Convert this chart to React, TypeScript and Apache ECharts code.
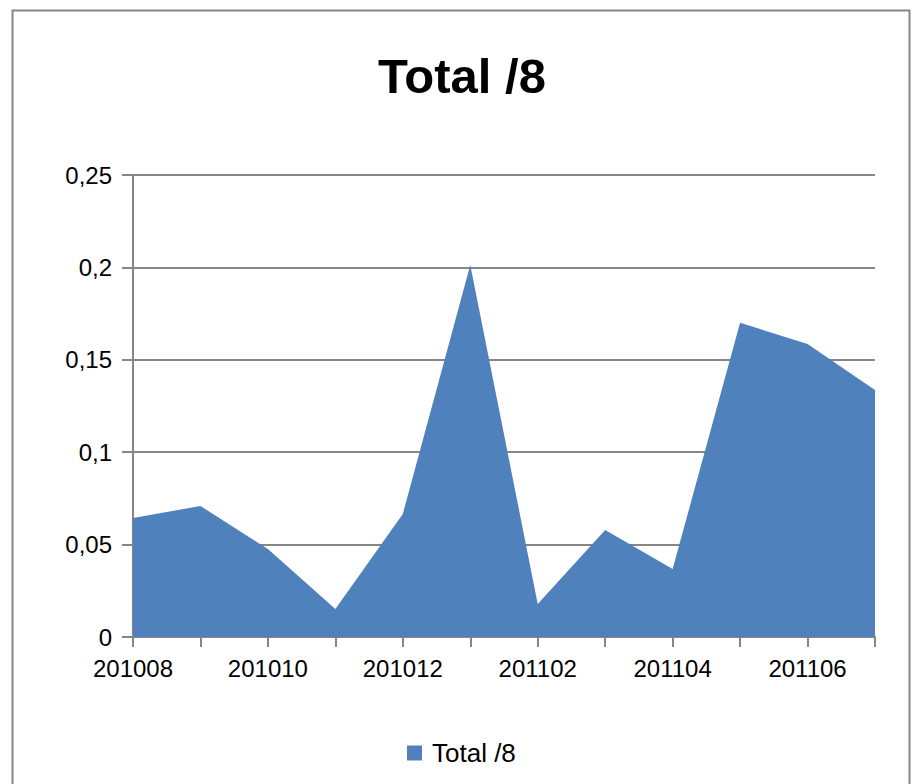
import React, { useEffect, useRef } from "react";
import * as echarts from "echarts";

const categories = [
  "201008", "201009", "201010", "201011", "201012", "201101",
  "201102", "201103", "201104", "201105", "201106", "201107",
];
const totalValues = [
  0.0644, 0.0709, 0.0476, 0.0152, 0.0666, 0.2013,
  0.0179, 0.0579, 0.0368, 0.170, 0.1585, 0.1337,
];
const seriesName = "Total /8";
const titleText = "Total /8";

export default function App() {
  const ref = useRef<HTMLDivElement>(null);
  useEffect(() => {
    if (!ref.current) return;
    const chart = echarts.init(ref.current, undefined, { renderer: "svg" });
    const font = "'Liberation Sans', Arial, sans-serif";
    chart.setOption({
      animation: false,
      backgroundColor: "#ffffff",
      title: {
        text: titleText,
        left: 373,
        top: 46,
        textStyle: { fontFamily: font, fontSize: 49, fontWeight: "bold", color: "#000000" },
      },
      graphic: [
        {
          type: "rect",
          shape: { x: 12.5, y: 10.5, width: 897, height: 800 },
          style: { fill: "none", stroke: "#878787", lineWidth: 2 },
          silent: true,
        },
      ],
      legend: {
        data: [seriesName],
        left: 402,
        top: 735,
        icon: "rect",
        itemWidth: 15,
        itemHeight: 15,
        itemGap: 10,
        textStyle: { fontFamily: font, fontSize: 26, color: "#000000", padding: [0, 0, 0, 5] },
      },
      grid: { left: 133, right: 39, top: 175, bottom: 147, containLabel: false },
      xAxis: {
        type: "category",
        data: categories,
        boundaryGap: false,
        axisLine: { lineStyle: { color: "#868686", width: 2 } },
        axisTick: { show: true, interval: 0, length: 10, lineStyle: { color: "#868686", width: 2 } },
        axisLabel: {
          interval: 1,
          margin: 19,
          fontFamily: font,
          fontSize: 24,
          color: "#000000",
        },
        splitLine: { show: false },
      },
      yAxis: {
        type: "value",
        min: 0,
        max: 0.25,
        interval: 0.05,
        axisLine: { show: true, lineStyle: { color: "#868686", width: 2 } },
        axisTick: { show: true, length: 11, lineStyle: { color: "#868686", width: 2 } },
        axisLabel: {
          margin: 21,
          fontFamily: font,
          fontSize: 24,
          color: "#000000",
          formatter: (v: number) => String(Math.round(v * 100) / 100).replace(".", ","),
        },
        splitLine: { lineStyle: { color: "#868686", width: 2 } },
      },
      series: [
        {
          name: seriesName,
          type: "line",
          data: totalValues,
          symbol: "none",
          lineStyle: { width: 0, color: "#4F81BD" },
          itemStyle: { color: "#4F81BD" },
          areaStyle: { color: "#4F81BD", opacity: 1 },
          z: 1,
        },
      ],
    });
    return () => chart.dispose();
  }, []);
  return (
    <div
      ref={ref}
      style={{ position: "absolute", left: 0, top: 0, width: 914, height: 784 }}
    />
  );
}
